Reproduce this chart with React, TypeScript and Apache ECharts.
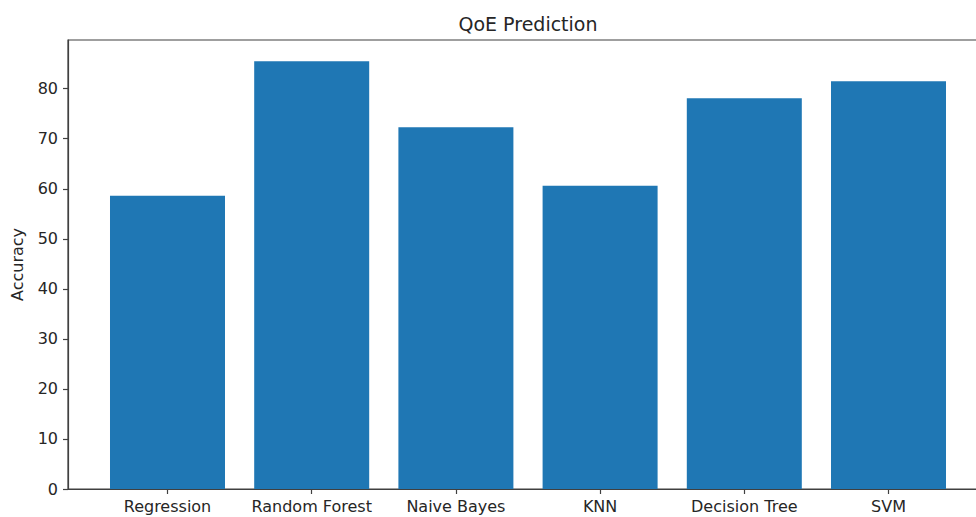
import React, { useEffect, useRef } from "react";
import * as echarts from "echarts";

const categories = ["Regression", "Random Forest", "Naive Bayes", "KNN", "Decision Tree", "SVM"];
const accuracy = [58.6, 85.5, 72.3, 60.6, 78.1, 81.5];
const yTicks = [0, 10, 20, 30, 40, 50, 60, 70, 80];
const xPositions = [0, 1, 2, 3, 4, 5];

export default function App() {
  const ref = useRef<HTMLDivElement>(null);
  useEffect(() => {
    if (!ref.current) return;
    const chart = echarts.init(ref.current, null, { renderer: "svg" });
    const font = "DejaVu Sans";
    const textColor = "#262626";
    const lineColor = "#404040";
    chart.setOption({
      animation: false,
      backgroundColor: "#ffffff",
      title: {
        text: "QoE Prediction",
        left: 523,
        top: 9,
        textAlign: "center",
        textStyle: { fontFamily: font, fontSize: 19, fontWeight: "normal", color: textColor },
      },
      grid: {
        left: 68,
        top: 40,
        width: 920,
        height: 449,
        show: true,
        borderColor: lineColor,
        borderWidth: 1.2,
        backgroundColor: "transparent",
      },
      xAxis: {
        type: "value",
        min: -0.69,
        max: 5.69,
        axisLine: { show: true, onZero: false, lineStyle: { color: lineColor, width: 1.2 } },
        splitLine: { show: false },
        axisTick: {
          show: true,
          customValues: xPositions,
          length: 5,
          lineStyle: { color: lineColor, width: 1.2 },
        },
        axisLabel: {
          customValues: xPositions,
          formatter: (v: number) => categories[Math.round(v)] ?? "",
          fontFamily: font,
          fontSize: 16,
          color: textColor,
          margin: 9,
        },
      },
      yAxis: {
        type: "value",
        min: 0,
        max: 89.73,
        name: "Accuracy",
        nameLocation: "middle",
        nameGap: 43,
        nameRotate: 90,
        nameTextStyle: { fontFamily: font, fontSize: 16, color: textColor },
        axisLine: { show: true, onZero: false, lineStyle: { color: lineColor, width: 1.2 } },
        splitLine: { show: false },
        axisTick: {
          show: true,
          customValues: yTicks,
          length: 5,
          lineStyle: { color: lineColor, width: 1.2 },
        },
        axisLabel: {
          customValues: yTicks,
          fontFamily: font,
          fontSize: 16,
          color: textColor,
          margin: 10,
        },
      },
      series: [
        {
          type: "bar",
          barWidth: 115,
          itemStyle: { color: "#1f77b4" },
          data: xPositions.map((x, i) => [x, accuracy[i]]),
        },
      ],
    });
    return () => chart.dispose();
  }, []);
  return (
    <div
      style={{ position: "fixed", left: 0, top: 0, width: 976, height: 517, overflow: "hidden", background: "#fff" }}
    >
      <div ref={ref} style={{ width: 1000, height: 517 }} />
    </div>
  );
}
